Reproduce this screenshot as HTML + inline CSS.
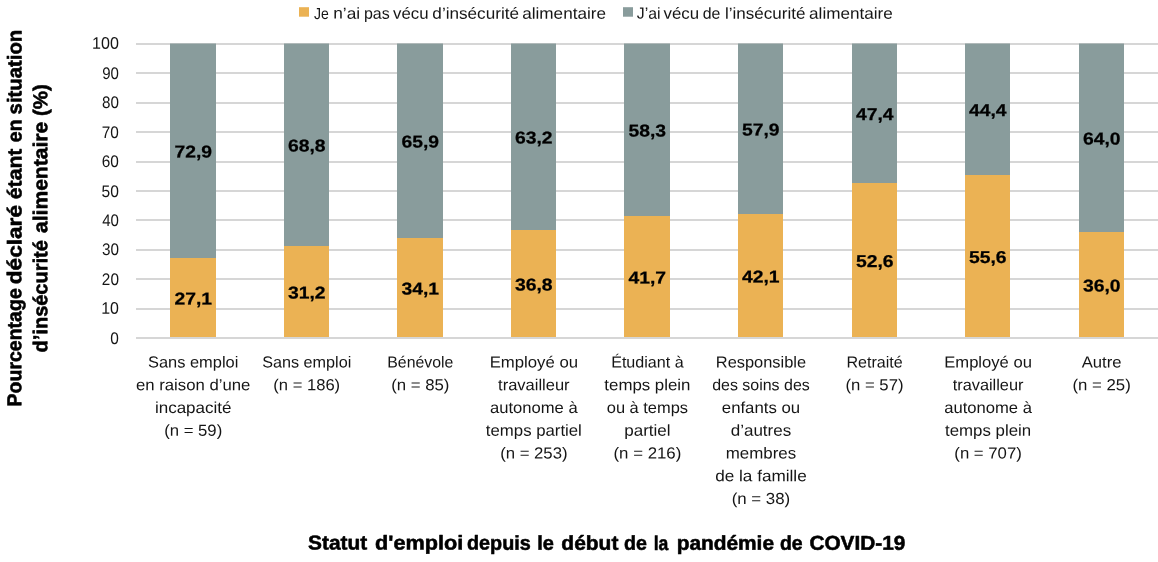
<!DOCTYPE html>
<html lang="fr"><head><meta charset="utf-8"><title>Statut d'emploi et insécurité alimentaire</title>
<style>html,body{margin:0;padding:0;background:#fff}svg{display:block;text-rendering:geometricPrecision}text{font-family:"Liberation Sans",sans-serif;fill:#151515}.b,.d{font-weight:bold;fill:#000;stroke:#000;stroke-width:0.55px;stroke-linejoin:round}.d{stroke-width:0.25px}</style></head><body>
<svg width="1158" height="562" viewBox="0 0 1158 562">
<rect width="1158" height="562" fill="#fff"/>
<rect x="136.0" y="308.00" width="1022.0" height="2" fill="#d6d6d6"/>
<rect x="136.0" y="278.00" width="1022.0" height="2" fill="#d6d6d6"/>
<rect x="136.0" y="249.00" width="1022.0" height="2" fill="#d6d6d6"/>
<rect x="136.0" y="219.00" width="1022.0" height="2" fill="#d6d6d6"/>
<rect x="136.0" y="190.00" width="1022.0" height="2" fill="#d6d6d6"/>
<rect x="136.0" y="161.00" width="1022.0" height="2" fill="#d6d6d6"/>
<rect x="136.0" y="131.00" width="1022.0" height="2" fill="#d6d6d6"/>
<rect x="136.0" y="102.00" width="1022.0" height="2" fill="#d6d6d6"/>
<rect x="136.0" y="72.00" width="1022.0" height="2" fill="#d6d6d6"/>
<rect x="136.0" y="43.00" width="1022.0" height="2" fill="#d6d6d6"/>
<rect x="170" y="43.50" width="46" height="214.50" fill="#899c9c"/>
<rect x="170" y="258" width="46" height="80" fill="#ebb254"/>
<rect x="284" y="43.50" width="45" height="202.50" fill="#899c9c"/>
<rect x="284" y="246" width="45" height="92" fill="#ebb254"/>
<rect x="397" y="43.50" width="46" height="194.50" fill="#899c9c"/>
<rect x="397" y="238" width="46" height="100" fill="#ebb254"/>
<rect x="511" y="43.50" width="45" height="186.50" fill="#899c9c"/>
<rect x="511" y="230" width="45" height="108" fill="#ebb254"/>
<rect x="624" y="43.50" width="46" height="172.50" fill="#899c9c"/>
<rect x="624" y="216" width="46" height="122" fill="#ebb254"/>
<rect x="738" y="43.50" width="45" height="170.50" fill="#899c9c"/>
<rect x="738" y="214" width="45" height="124" fill="#ebb254"/>
<rect x="852" y="43.50" width="45" height="139.50" fill="#899c9c"/>
<rect x="852" y="183" width="45" height="155" fill="#ebb254"/>
<rect x="965" y="43.50" width="45" height="131.50" fill="#899c9c"/>
<rect x="965" y="175" width="45" height="163" fill="#ebb254"/>
<rect x="1079" y="43.50" width="45" height="188.50" fill="#899c9c"/>
<rect x="1079" y="232" width="45" height="106" fill="#ebb254"/>
<rect x="136.0" y="337.00" width="1022.0" height="2" fill="#d6d6d6"/>
<text x="118.90" y="343.75" font-size="16.7" text-anchor="end" transform="rotate(0.03 118.90 343.75)" textLength="8.57" lengthAdjust="spacingAndGlyphs">0</text>
<text x="118.90" y="313.65" font-size="16.7" text-anchor="end" transform="rotate(0.03 118.90 313.65)" textLength="17.72" lengthAdjust="spacingAndGlyphs">10</text>
<text x="118.90" y="284.90" font-size="16.7" text-anchor="end" transform="rotate(0.03 118.90 284.90)" textLength="17.04" lengthAdjust="spacingAndGlyphs">20</text>
<text x="118.90" y="254.95" font-size="16.7" text-anchor="end" transform="rotate(0.03 118.90 254.95)" textLength="16.95" lengthAdjust="spacingAndGlyphs">30</text>
<text x="118.90" y="226.05" font-size="16.7" text-anchor="end" transform="rotate(0.03 118.90 226.05)" textLength="16.69" lengthAdjust="spacingAndGlyphs">40</text>
<text x="118.90" y="196.75" font-size="16.7" text-anchor="end" transform="rotate(0.03 118.90 196.75)" textLength="17.31" lengthAdjust="spacingAndGlyphs">50</text>
<text x="118.90" y="166.85" font-size="16.7" text-anchor="end" transform="rotate(0.03 118.90 166.85)" textLength="17.12" lengthAdjust="spacingAndGlyphs">60</text>
<text x="118.90" y="137.85" font-size="16.7" text-anchor="end" transform="rotate(0.03 118.90 137.85)" textLength="17.07" lengthAdjust="spacingAndGlyphs">70</text>
<text x="118.90" y="107.95" font-size="16.7" text-anchor="end" transform="rotate(0.03 118.90 107.95)" textLength="16.87" lengthAdjust="spacingAndGlyphs">80</text>
<text x="118.90" y="78.85" font-size="16.7" text-anchor="end" transform="rotate(0.03 118.90 78.85)" textLength="16.69" lengthAdjust="spacingAndGlyphs">90</text>
<text x="118.90" y="48.85" font-size="16.7" text-anchor="end" transform="rotate(0.03 118.90 48.85)" textLength="26.80" lengthAdjust="spacingAndGlyphs">100</text>
<text class="d" x="193.20" y="304.50" font-size="17.2" text-anchor="middle" transform="rotate(0.03 193.20 304.50)" textLength="37.60" lengthAdjust="spacingAndGlyphs">27,1</text>
<text class="d" x="193.20" y="157.50" font-size="17.2" text-anchor="middle" transform="rotate(0.03 193.20 157.50)" textLength="37.60" lengthAdjust="spacingAndGlyphs">72,9</text>
<text class="d" x="306.70" y="298.50" font-size="17.2" text-anchor="middle" transform="rotate(0.03 306.70 298.50)" textLength="37.60" lengthAdjust="spacingAndGlyphs">31,2</text>
<text class="d" x="306.70" y="151.50" font-size="17.2" text-anchor="middle" transform="rotate(0.03 306.70 151.50)" textLength="37.60" lengthAdjust="spacingAndGlyphs">68,8</text>
<text class="d" x="420.20" y="294.50" font-size="17.2" text-anchor="middle" transform="rotate(0.03 420.20 294.50)" textLength="37.60" lengthAdjust="spacingAndGlyphs">34,1</text>
<text class="d" x="420.20" y="147.50" font-size="17.2" text-anchor="middle" transform="rotate(0.03 420.20 147.50)" textLength="37.60" lengthAdjust="spacingAndGlyphs">65,9</text>
<text class="d" x="533.70" y="290.50" font-size="17.2" text-anchor="middle" transform="rotate(0.03 533.70 290.50)" textLength="37.60" lengthAdjust="spacingAndGlyphs">36,8</text>
<text class="d" x="533.70" y="143.50" font-size="17.2" text-anchor="middle" transform="rotate(0.03 533.70 143.50)" textLength="37.60" lengthAdjust="spacingAndGlyphs">63,2</text>
<text class="d" x="647.20" y="283.50" font-size="17.2" text-anchor="middle" transform="rotate(0.03 647.20 283.50)" textLength="37.60" lengthAdjust="spacingAndGlyphs">41,7</text>
<text class="d" x="647.20" y="136.50" font-size="17.2" text-anchor="middle" transform="rotate(0.03 647.20 136.50)" textLength="37.60" lengthAdjust="spacingAndGlyphs">58,3</text>
<text class="d" x="760.70" y="282.50" font-size="17.2" text-anchor="middle" transform="rotate(0.03 760.70 282.50)" textLength="37.60" lengthAdjust="spacingAndGlyphs">42,1</text>
<text class="d" x="760.70" y="135.50" font-size="17.2" text-anchor="middle" transform="rotate(0.03 760.70 135.50)" textLength="37.60" lengthAdjust="spacingAndGlyphs">57,9</text>
<text class="d" x="874.70" y="267.00" font-size="17.2" text-anchor="middle" transform="rotate(0.03 874.70 267.00)" textLength="37.60" lengthAdjust="spacingAndGlyphs">52,6</text>
<text class="d" x="874.70" y="120.00" font-size="17.2" text-anchor="middle" transform="rotate(0.03 874.70 120.00)" textLength="37.60" lengthAdjust="spacingAndGlyphs">47,4</text>
<text class="d" x="987.70" y="263.00" font-size="17.2" text-anchor="middle" transform="rotate(0.03 987.70 263.00)" textLength="37.60" lengthAdjust="spacingAndGlyphs">55,6</text>
<text class="d" x="987.70" y="116.00" font-size="17.2" text-anchor="middle" transform="rotate(0.03 987.70 116.00)" textLength="37.60" lengthAdjust="spacingAndGlyphs">44,4</text>
<text class="d" x="1101.70" y="291.50" font-size="17.2" text-anchor="middle" transform="rotate(0.03 1101.70 291.50)" textLength="37.60" lengthAdjust="spacingAndGlyphs">36,0</text>
<text class="d" x="1101.70" y="144.50" font-size="17.2" text-anchor="middle" transform="rotate(0.03 1101.70 144.50)" textLength="37.60" lengthAdjust="spacingAndGlyphs">64,0</text>
<text x="193.18" y="367.60" font-size="16" text-anchor="middle" transform="rotate(0.03 193.18 367.60)" textLength="90.28" lengthAdjust="spacingAndGlyphs">Sans emploi</text>
<text x="193.18" y="390.35" font-size="16" text-anchor="middle" transform="rotate(0.03 193.18 390.35)" textLength="114.34" lengthAdjust="spacingAndGlyphs">en raison d’une</text>
<text x="193.18" y="413.10" font-size="16" text-anchor="middle" transform="rotate(0.03 193.18 413.10)" textLength="76.52" lengthAdjust="spacingAndGlyphs">incapacité</text>
<text x="193.18" y="435.85" font-size="16" text-anchor="middle" transform="rotate(0.03 193.18 435.85)" textLength="58.06" lengthAdjust="spacingAndGlyphs">(n = 59)</text>
<text x="306.73" y="367.60" font-size="16" text-anchor="middle" transform="rotate(0.03 306.73 367.60)" textLength="89.09" lengthAdjust="spacingAndGlyphs">Sans emploi</text>
<text x="306.73" y="390.35" font-size="16" text-anchor="middle" transform="rotate(0.03 306.73 390.35)" textLength="66.80" lengthAdjust="spacingAndGlyphs">(n = 186)</text>
<text x="420.29" y="367.60" font-size="16" text-anchor="middle" transform="rotate(0.03 420.29 367.60)" textLength="65.91" lengthAdjust="spacingAndGlyphs">Bénévole</text>
<text x="420.29" y="390.35" font-size="16" text-anchor="middle" transform="rotate(0.03 420.29 390.35)" textLength="58.25" lengthAdjust="spacingAndGlyphs">(n = 85)</text>
<text x="533.84" y="367.60" font-size="16" text-anchor="middle" transform="rotate(0.03 533.84 367.60)" textLength="88.35" lengthAdjust="spacingAndGlyphs">Employé ou</text>
<text x="533.84" y="390.35" font-size="16" text-anchor="middle" transform="rotate(0.03 533.84 390.35)" textLength="71.47" lengthAdjust="spacingAndGlyphs">travailleur</text>
<text x="533.84" y="413.10" font-size="16" text-anchor="middle" transform="rotate(0.03 533.84 413.10)" textLength="87.65" lengthAdjust="spacingAndGlyphs">autonome à</text>
<text x="533.84" y="435.85" font-size="16" text-anchor="middle" transform="rotate(0.03 533.84 435.85)" textLength="95.96" lengthAdjust="spacingAndGlyphs">temps partiel</text>
<text x="533.84" y="458.60" font-size="16" text-anchor="middle" transform="rotate(0.03 533.84 458.60)" textLength="67.43" lengthAdjust="spacingAndGlyphs">(n = 253)</text>
<text x="647.40" y="367.60" font-size="16" text-anchor="middle" transform="rotate(0.03 647.40 367.60)" textLength="72.49" lengthAdjust="spacingAndGlyphs">Étudiant à</text>
<text x="647.40" y="390.35" font-size="16" text-anchor="middle" transform="rotate(0.03 647.40 390.35)" textLength="86.11" lengthAdjust="spacingAndGlyphs">temps plein</text>
<text x="647.40" y="413.10" font-size="16" text-anchor="middle" transform="rotate(0.03 647.40 413.10)" textLength="81.24" lengthAdjust="spacingAndGlyphs">ou à temps</text>
<text x="647.40" y="435.85" font-size="16" text-anchor="middle" transform="rotate(0.03 647.40 435.85)" textLength="46.38" lengthAdjust="spacingAndGlyphs">partiel</text>
<text x="647.40" y="458.60" font-size="16" text-anchor="middle" transform="rotate(0.03 647.40 458.60)" textLength="67.76" lengthAdjust="spacingAndGlyphs">(n = 216)</text>
<text x="760.96" y="367.60" font-size="16" text-anchor="middle" transform="rotate(0.03 760.96 367.60)" textLength="90.25" lengthAdjust="spacingAndGlyphs">Responsible</text>
<text x="760.96" y="390.35" font-size="16" text-anchor="middle" transform="rotate(0.03 760.96 390.35)" textLength="97.60" lengthAdjust="spacingAndGlyphs">des soins des</text>
<text x="760.96" y="413.10" font-size="16" text-anchor="middle" transform="rotate(0.03 760.96 413.10)" textLength="78.29" lengthAdjust="spacingAndGlyphs">enfants ou</text>
<text x="760.96" y="435.85" font-size="16" text-anchor="middle" transform="rotate(0.03 760.96 435.85)" textLength="60.52" lengthAdjust="spacingAndGlyphs">d’autres</text>
<text x="760.96" y="458.60" font-size="16" text-anchor="middle" transform="rotate(0.03 760.96 458.60)" textLength="70.38" lengthAdjust="spacingAndGlyphs">membres</text>
<text x="760.96" y="481.35" font-size="16" text-anchor="middle" transform="rotate(0.03 760.96 481.35)" textLength="91.47" lengthAdjust="spacingAndGlyphs">de la famille</text>
<text x="760.96" y="504.10" font-size="16" text-anchor="middle" transform="rotate(0.03 760.96 504.10)" textLength="58.55" lengthAdjust="spacingAndGlyphs">(n = 38)</text>
<text x="874.51" y="367.60" font-size="16" text-anchor="middle" transform="rotate(0.03 874.51 367.60)" textLength="56.27" lengthAdjust="spacingAndGlyphs">Retraité</text>
<text x="874.51" y="390.35" font-size="16" text-anchor="middle" transform="rotate(0.03 874.51 390.35)" textLength="57.98" lengthAdjust="spacingAndGlyphs">(n = 57)</text>
<text x="988.07" y="367.60" font-size="16" text-anchor="middle" transform="rotate(0.03 988.07 367.60)" textLength="87.63" lengthAdjust="spacingAndGlyphs">Employé ou</text>
<text x="988.07" y="390.35" font-size="16" text-anchor="middle" transform="rotate(0.03 988.07 390.35)" textLength="70.75" lengthAdjust="spacingAndGlyphs">travailleur</text>
<text x="988.07" y="413.10" font-size="16" text-anchor="middle" transform="rotate(0.03 988.07 413.10)" textLength="87.77" lengthAdjust="spacingAndGlyphs">autonome à</text>
<text x="988.07" y="435.85" font-size="16" text-anchor="middle" transform="rotate(0.03 988.07 435.85)" textLength="86.08" lengthAdjust="spacingAndGlyphs">temps plein</text>
<text x="988.07" y="458.60" font-size="16" text-anchor="middle" transform="rotate(0.03 988.07 458.60)" textLength="67.44" lengthAdjust="spacingAndGlyphs">(n = 707)</text>
<text x="1101.62" y="367.60" font-size="16" text-anchor="middle" transform="rotate(0.03 1101.62 367.60)" textLength="39.74" lengthAdjust="spacingAndGlyphs">Autre</text>
<text x="1101.62" y="390.35" font-size="16" text-anchor="middle" transform="rotate(0.03 1101.62 390.35)" textLength="58.26" lengthAdjust="spacingAndGlyphs">(n = 25)</text>
<rect x="299" y="7.2" width="10" height="9.5" fill="#ebb254"/>
<text y="18.70" font-size="16" text-anchor="middle" transform="rotate(0.03 459.75 18.70)"><tspan x="323.66" textLength="14.83" lengthAdjust="spacingAndGlyphs">Je</tspan> <tspan x="348.89" textLength="26.84" lengthAdjust="spacingAndGlyphs">n’ai</tspan> <tspan x="379.07" textLength="25.78" lengthAdjust="spacingAndGlyphs">pas</tspan> <tspan x="413.02" textLength="35.48" lengthAdjust="spacingAndGlyphs">vécu</tspan> <tspan x="477.91" textLength="86.59" lengthAdjust="spacingAndGlyphs">d’insécurité</tspan> <tspan x="564.12" textLength="83.84" lengthAdjust="spacingAndGlyphs">alimentaire</tspan></text>
<rect x="623" y="7.2" width="10" height="9.5" fill="#899c9c"/>
<text y="18.70" font-size="16" text-anchor="middle" transform="rotate(0.03 764.60 18.70)"><tspan x="650.93" textLength="23.72" lengthAdjust="spacingAndGlyphs">J’ai</tspan> <tspan x="683.56" textLength="35.54" lengthAdjust="spacingAndGlyphs">vécu</tspan> <tspan x="713.78" textLength="17.64" lengthAdjust="spacingAndGlyphs">de</tspan> <tspan x="767.47" textLength="80.43" lengthAdjust="spacingAndGlyphs">l’insécurité</tspan> <tspan x="850.95" textLength="83.80" lengthAdjust="spacingAndGlyphs">alimentaire</tspan></text>
<text class="b" y="549.70" font-size="20.1" text-anchor="middle" transform="rotate(0.03 606.80 549.70)"><tspan x="340.48" textLength="59.13" lengthAdjust="spacingAndGlyphs">Statut</tspan> <tspan x="421.97" textLength="88.10" lengthAdjust="spacingAndGlyphs">d'emploi</tspan> <tspan x="501.69" textLength="63.68" lengthAdjust="spacingAndGlyphs">depuis</tspan> <tspan x="548.43" textLength="16.65" lengthAdjust="spacingAndGlyphs">le</tspan> <tspan x="592.68" textLength="57.00" lengthAdjust="spacingAndGlyphs">début</tspan> <tspan x="638.25" textLength="22.88" lengthAdjust="spacingAndGlyphs">de</tspan> <tspan x="663.82" textLength="14.66" lengthAdjust="spacingAndGlyphs">la</tspan> <tspan x="728.13" textLength="97.35" lengthAdjust="spacingAndGlyphs">pandémie</tspan> <tspan x="794.10" textLength="22.68" lengthAdjust="spacingAndGlyphs">de</tspan> <tspan x="857.43" textLength="96.05" lengthAdjust="spacingAndGlyphs">COVID-19</tspan></text>
<text class="b" y="218.00" font-size="20.1" text-anchor="middle" transform="rotate(-89.97 21.40 218.00)"><tspan x="-105.14" textLength="118.13" lengthAdjust="spacingAndGlyphs">Pourcentage</tspan> <tspan x="-2.44" textLength="79.19" lengthAdjust="spacingAndGlyphs">déclaré</tspan> <tspan x="68.31" textLength="50.51" lengthAdjust="spacingAndGlyphs">étant</tspan> <tspan x="111.41" textLength="22.73" lengthAdjust="spacingAndGlyphs">en</tspan> <tspan x="167.33" textLength="84.69" lengthAdjust="spacingAndGlyphs">situation</tspan></text>
<text class="b" y="218.35" font-size="20.1" text-anchor="middle" transform="rotate(-89.97 47.30 218.35)"><tspan x="-27.84" textLength="112.26" lengthAdjust="spacingAndGlyphs">d’insécurité</tspan> <tspan x="91.08" textLength="111.21" lengthAdjust="spacingAndGlyphs">alimentaire</tspan> <tspan x="165.56" textLength="31.94" lengthAdjust="spacingAndGlyphs">(%)</tspan></text>
</svg></body></html>
